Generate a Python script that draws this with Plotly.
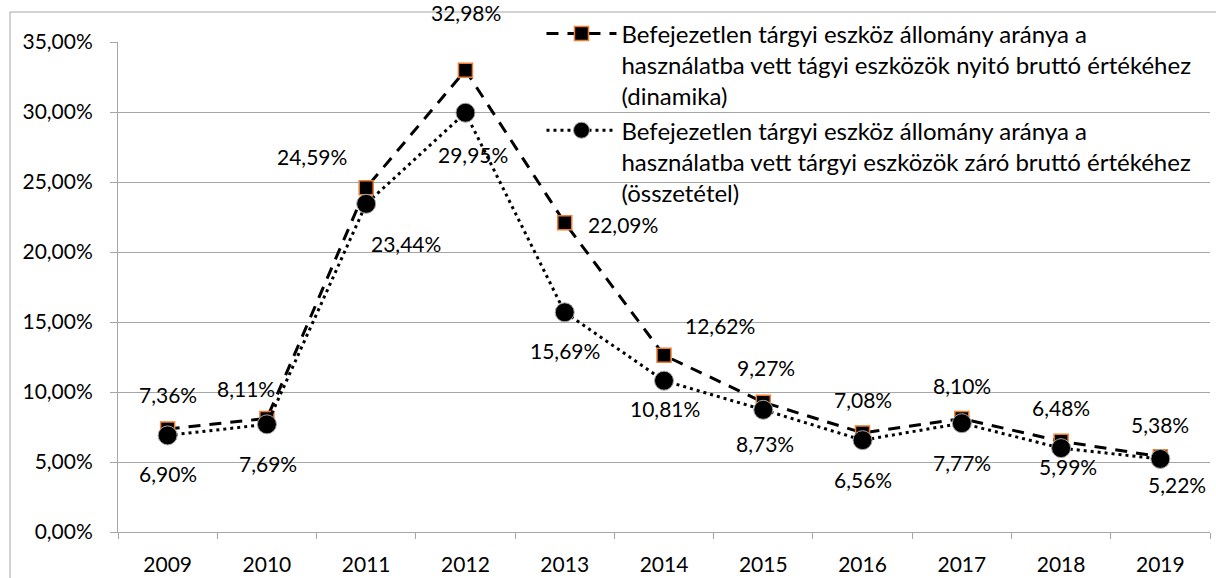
import plotly.graph_objects as go

years = ["2009", "2010", "2011", "2012", "2013", "2014", "2015", "2016", "2017", "2018", "2019"]
dinamika = [7.36, 8.11, 24.59, 32.98, 22.09, 12.62, 9.27, 7.08, 8.10, 6.48, 5.38]
osszetetel = [6.90, 7.69, 23.44, 29.95, 15.69, 10.81, 8.73, 6.56, 7.77, 5.99, 5.22]
name1 = "Befejezetlen tárgyi eszköz állomány aránya a<br>használatba vett tágyi eszközök nyitó bruttó értékéhez<br>(dinamika)"
name2 = "Befejezetlen tárgyi eszköz állomány aránya a<br>használatba vett tárgyi eszközök záró bruttó értékéhez<br>(összetétel)"

# label offsets (px) for the data labels
off1 = [(0, 34), (-21, 30), (-54, 31), (1, 58), (58, -2), (56, 30), (3, 35), (0, 33), (0, 33), (0, 34), (0, 32)]
off2 = [(0, -38), (1, -39), (40, -40), (8, -42), (0, -38), (1, -28), (2, -34), (0, -39), (0, -39), (7, -18), (17, -26)]

FONT = "Lato"
FS = 21
LFS = 24
GRID = "#A6A6A6"

fig = go.Figure()
fig.add_trace(go.Scatter(
    x=years, y=dinamika, name=name1, mode="lines+markers",
    line=dict(color="black", width=3, dash="12px,9px"),
    marker=dict(symbol="square", size=14, color="black", line=dict(color="#ED7D31", width=1.5)),
    cliponaxis=False,
))
fig.add_trace(go.Scatter(
    x=years, y=osszetetel, name=name2, mode="lines+markers",
    line=dict(color="black", width=3, dash="3px,4px"),
    marker=dict(symbol="circle", size=19, color="black", line=dict(color="#A6A6A6", width=1)),
    cliponaxis=False,
))

def fmt(v):
    return f"{v:.2f}".replace(".", ",") + "%"

anns = []
for vals, offs in ((dinamika, off1), (osszetetel, off2)):
    for i, (v, (dx, dy)) in enumerate(zip(vals, offs)):
        anns.append(dict(x=i, y=v, xref="x", yref="y", text=fmt(v), showarrow=False,
                         xshift=dx, yshift=dy, font=dict(family=FONT, size=FS, color="black")))

fig.update_layout(
    width=1216, height=578,
    margin=dict(l=118, r=6, t=42, b=46, autoexpand=False),
    paper_bgcolor="white", plot_bgcolor="white",
    separators=",.",
    font=dict(family=FONT, size=FS, color="black"),
    annotations=anns,
    showlegend=True,
    legend=dict(x=0.3878, y=1.0622, xanchor="left", yanchor="top", bgcolor="rgba(0,0,0,0)",
                valign="top", itemwidth=70, font=dict(family=FONT, size=LFS, color="black"),
                itemclick=False, itemdoubleclick=False),
    shapes=[
        dict(type="line", xref="paper", yref="paper", x0=-0.0989, x1=-0.0989, y0=1.0612, y1=-0.1, line=dict(color="#A6A6A6", width=1)),
        dict(type="line", xref="paper", yref="paper", x0=-0.0989, x1=1.01, y0=1.0612, y1=1.0612, line=dict(color="#A6A6A6", width=1)),
    ],
)
fig.update_xaxes(type="category", range=[-0.5, 10.5], autorange=False, showgrid=False, showline=True,
                 linecolor=GRID, linewidth=1, tickangle=0, automargin=False,
                 ticks="outside", ticklen=6, tickcolor=GRID, tickson="boundaries",
                 ticklabelstandoff=14, tickfont=dict(family=FONT, size=FS, color="black"))
fig.update_yaxes(range=[0, 35], autorange=False, dtick=5, tick0=0, tickformat=".2f", ticksuffix="%",
                 showgrid=True, gridcolor=GRID, gridwidth=1, showline=True, linecolor=GRID, linewidth=1,
                 ticks="outside", ticklen=7, tickcolor=GRID, zeroline=False, automargin=False,
                 ticklabelstandoff=13, tickfont=dict(family=FONT, size=FS, color="black"))

fig.write_html("out.html", config={"displayModeBar": False},
               post_script="document.body.style.margin='0';document.body.style.padding='0';document.body.style.overflow='hidden';")
